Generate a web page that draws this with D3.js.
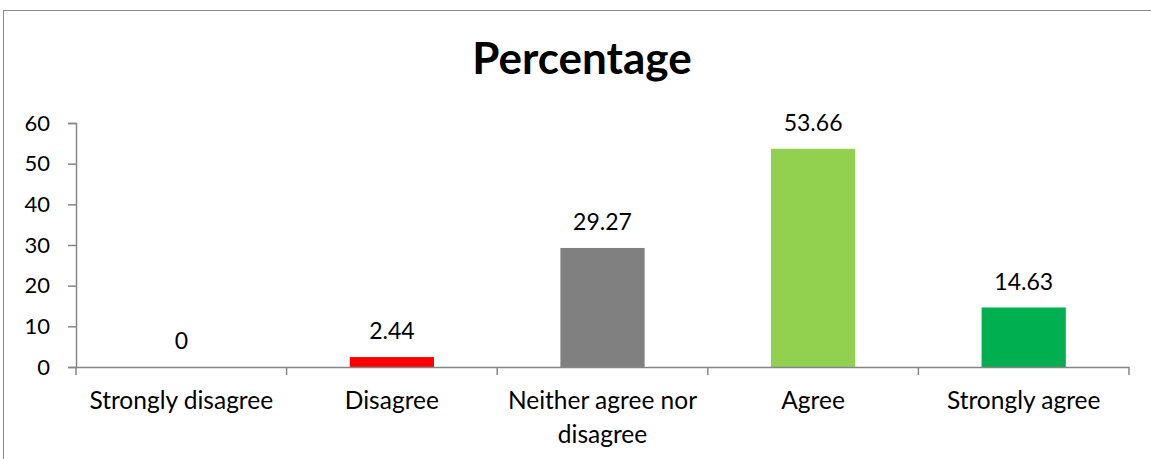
<!DOCTYPE html>
<html><head><meta charset="utf-8">
<script src="https://cdn.jsdelivr.net/npm/d3@7"></script>
<style>body{margin:0;background:#fff;} svg{display:block;font-family:Lato,"Noto Sans",sans-serif;}</style>
</head><body>
<script>
const categories = ["Strongly disagree", "Disagree", "Neither agree nor disagree", "Agree", "Strongly agree"];
const values = [0, 2.44, 29.27, 53.66, 14.63];
const valueLabels = ["0", "2.44", "29.27", "53.66", "14.63"];
const colors = ["#FF0000", "#FF0000", "#808080", "#92D050", "#00B050"];
const yTicks = [0, 10, 20, 30, 40, 50, 60];
const title = "Percentage";

const W = 1151, H = 459;
const svg = d3.select("body").append("svg").attr("width", W).attr("height", H);
svg.append("rect").attr("x", 3.5).attr("y", 10.5).attr("width", W + 10).attr("height", H + 10)
  .attr("fill", "#fff").attr("stroke", "#888").attr("stroke-width", 1);

const pLeft = 76, pRight = 1129, pTop = 123, pBottom = 367;
const x = d3.scaleBand().domain(categories).range([pLeft, pRight]).paddingInner(0.6).paddingOuter(0.3);
const xb = d3.scaleBand().domain(categories).range([pLeft, pRight]);
const y = d3.scaleLinear().domain([0, 60]).range([pBottom, pTop]);

svg.append("text").attr("x", 582).attr("y", 74).attr("text-anchor", "middle")
  .attr("font-size", 44).attr("font-weight", "bold").attr("fill", "#000").text(title);

// y axis
const ya = svg.append("g").attr("transform", `translate(${pLeft},0)`)
  .call(d3.axisLeft(y).tickValues(yTicks).tickSize(8).tickPadding(18));
ya.select(".domain").attr("stroke", "#868686").attr("stroke-width", 1.5);
ya.selectAll(".tick line").attr("stroke", "#868686").attr("stroke-width", 1.5);
ya.selectAll(".tick text").attr("font-size", 22).attr("fill", "#000").attr("font-family", "Lato");

// bars
svg.selectAll(".bar").data(values).enter().append("rect")
  .attr("x", (d, i) => x(categories[i])).attr("width", x.bandwidth())
  .attr("y", d => y(d)).attr("height", d => pBottom - y(d))
  .attr("fill", (d, i) => colors[i]);

// x axis
const xa = svg.append("g").attr("transform", `translate(0,${pBottom})`)
  .call(d3.axisBottom(xb).tickSize(0).tickFormat(""));
xa.select(".domain").attr("stroke", "#868686").attr("stroke-width", 1.5);
const bounds = [pLeft].concat(categories.map(c => xb(c) + xb.bandwidth()));
svg.selectAll(".xt").data(bounds).enter().append("line")
  .attr("x1", d => d).attr("x2", d => d).attr("y1", pBottom).attr("y2", pBottom + 8)
  .attr("stroke", "#868686").attr("stroke-width", 1.5);

// category labels
const lines = [["Strongly disagree"], ["Disagree"], ["Neither agree nor", "disagree"], ["Agree"], ["Strongly agree"]];
categories.forEach((c, i) => {
  const t = svg.append("text").attr("text-anchor", "middle").attr("font-size", 24.5).attr("fill", "#000");
  lines[i].forEach((l, j) => {
    t.append("tspan").attr("x", xb(c) + xb.bandwidth() / 2).attr("y", 409 + j * 34).text(l);
  });
});

// value labels
svg.selectAll(".vl").data(values).enter().append("text")
  .attr("x", (d, i) => xb(categories[i]) + xb.bandwidth() / 2)
  .attr("y", d => y(d) - 18).attr("text-anchor", "middle")
  .attr("font-size", 23).attr("fill", "#000").text((d, i) => valueLabels[i]);
</script>
</body></html>
